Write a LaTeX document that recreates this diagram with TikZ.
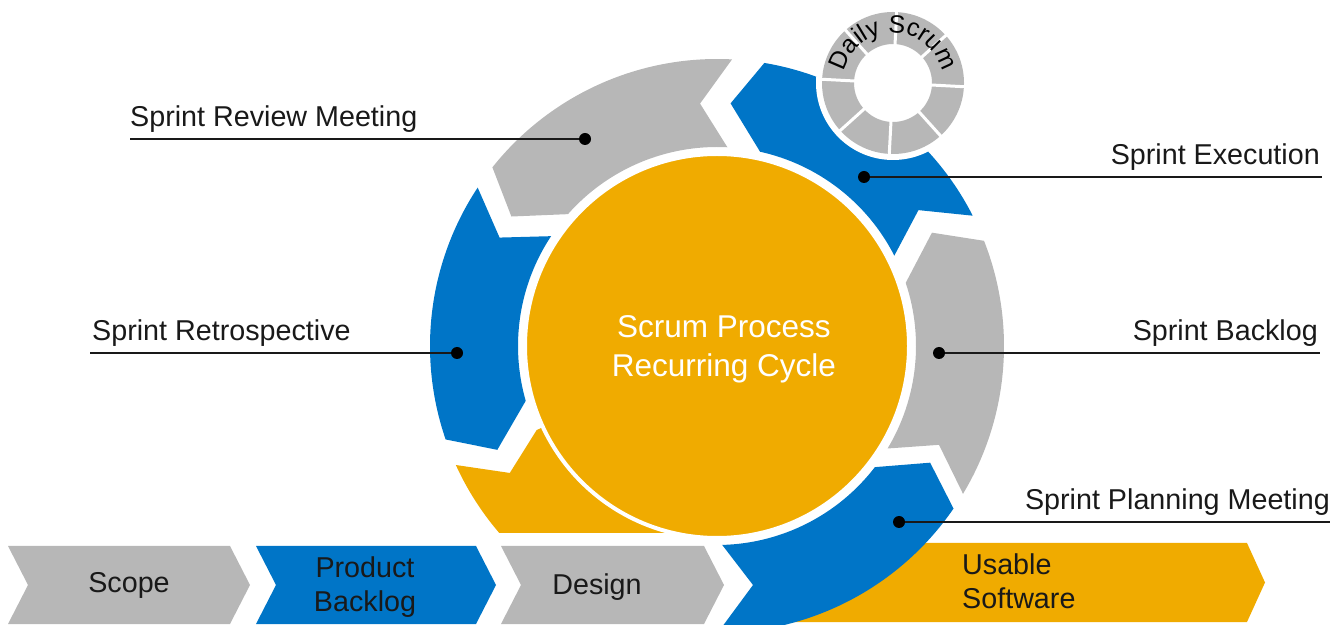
\documentclass[tikz,border=0pt]{standalone}
\usepackage{fontspec}
\setmainfont{Liberation Sans}
\usepackage{tikz}
\usetikzlibrary{decorations.text}
\definecolor{sblue}{RGB}{0,117,199}
\definecolor{sgray}{RGB}{183,183,183}
\definecolor{syellow}{RGB}{240,171,0}
\tikzset{
%%%%%%%%%%  Node styles
dotnode/.style={fill=black,circle,minimum size=12pt,inner sep=0pt,outer sep=0pt},
lbl/.style={font=\fontsize{28.7}{34}\selectfont,text=black!90,inner sep=0pt},
steptext/.style={font=\fontsize{28.7}{34}\selectfont,text=black!90,inner sep=0pt,
                 align=center},
centertext/.style={font=\fontsize{31.5}{39}\selectfont,text=white,inner sep=0pt,
                   align=center},
core/.style={circle,fill=syellow,draw=white,line width=4pt,minimum size=384pt,
             inner sep=0pt},
%%%% different line styles:
leader/.style={line width=1.8pt,draw=black!90},
gapline/.style={draw=white,line width=3pt}
}
% one arrow of the ring: colour, tail angle, head angle
\newcommand{\ringarrow}[3]{%
\fill[#1] (#2:287pt) arc[start angle=#2, end angle=#3+1.5, radius=287pt]
  -- (#3+7.8:243pt) -- (#3-1.5:199pt)
  arc[start angle=#3-1.5, end angle=#2, radius=199pt]
  -- (#2+7:243pt) -- cycle;}
% one step of the bottom row: colour, left x, right x, height
\newcommand{\chevron}[4]{%
\fill[#1] (#2,0) -- (#3,0) -- (#3+20,#4/2) -- (#3,#4) -- (#2,#4)
  -- (#2+20,#4/2) -- cycle;}

\begin{document}
\begin{tikzpicture}[x=1pt,y=1pt]
\useasboundingbox (0,0) rectangle (1344,624);
\coordinate (C) at (717,278);
\coordinate (D) at (893,541);
\fill[syellow] (760,2) -- (1247,2) -- (1265,41.5) -- (1247,81) -- (760,81) -- cycle;
\begin{scope}[shift={(C)}]
\ringarrow{sgray}{-31}{20}
\ringarrow{sblue}{27}{79}
\ringarrow{sgray}{87}{140}
\ringarrow{sblue}{146.5}{197.5}
% planning arrow, tail in the bottom row
\fill[sblue] (-88.5:199pt) arc[start angle=-88.5, end angle=-37.5, radius=199pt]
  -- (-28.7:243pt) -- (-34.5:287pt)
  arc[start angle=-34.5, end angle=-92, radius=287pt]
  -- (5,-281) -- (36,-239) -- cycle;
\begin{scope}
\clip (-300,-187) rectangle (0,0);
\fill[syellow] (204.5:287pt) arc[start angle=204.5, end angle=300, radius=287pt]
  -- (300:193pt) arc[start angle=300, end angle=205, radius=193pt]
  -- (205:199pt) -- (211.5:243pt) -- cycle;
\end{scope}
\end{scope}
\node[core] (circ) at (C) {};
\node[centertext] (cycle) at (724,274.5) {Scrum Process\\Recurring Cycle};

% daily scrum
\fill[white] (D) circle[radius=77pt];
\fill[sgray,even odd rule] (D) circle[radius=71pt] circle[radius=39pt];
\begin{scope}[shift={(D)}]
\foreach \a in {42,87,...,357}
  \draw[gapline] (\a:37pt) -- (\a:73pt);
\path[decorate,decoration={text along path,
      text={|\fontsize{25}{25}\selectfont|Daily Scrum},text align=center}]
  (180:50pt) arc[start angle=180, end angle=0, radius=50pt];
\end{scope}

% bottom row
\chevron{sgray}{8}{230}{78}
\chevron{sblue}{256}{476}{78}
\chevron{sgray}{501}{704}{78}
\node[steptext,anchor=base] (scope) at (129,31) {Scope};
\node[steptext] (pbl) at (365,36.9) {Product\\Backlog};
\node[steptext,anchor=base] (design) at (597,30) {Design};
\node[steptext,align=left,anchor=west] (usable) at (962,42.4) {Usable\\Software};

% labels
\node[dotnode] (dReview) at (585,485) {};
\coordinate (eReview) at (130,485);
\draw[leader] (eReview) -- (dReview);
\node[lbl,anchor=base west] (tReview) at (130,497.5) {Sprint Review Meeting};
\node[dotnode] (dRetro) at (457,271) {};
\coordinate (eRetro) at (90,271);
\draw[leader] (eRetro) -- (dRetro);
\node[lbl,anchor=base west] (tRetro) at (92,283.5) {Sprint Retrospective};
\node[dotnode] (dExec) at (864,447) {};
\coordinate (eExec) at (1322,447);
\draw[leader] (dExec) -- (eExec);
\node[lbl,anchor=base east] (tExec) at (1320,459.5) {Sprint Execution};
\node[dotnode] (dBacklog) at (939,271) {};
\coordinate (eBacklog) at (1320,271);
\draw[leader] (dBacklog) -- (eBacklog);
\node[lbl,anchor=base east] (tBacklog) at (1318,283.5) {Sprint Backlog};
\node[dotnode] (dPlan) at (899,102) {};
\coordinate (ePlan) at (1330,102);
\draw[leader] (dPlan) -- (ePlan);
\node[lbl,anchor=base east] (tPlan) at (1330,114.5) {Sprint Planning Meeting};
\end{tikzpicture}
\end{document}
